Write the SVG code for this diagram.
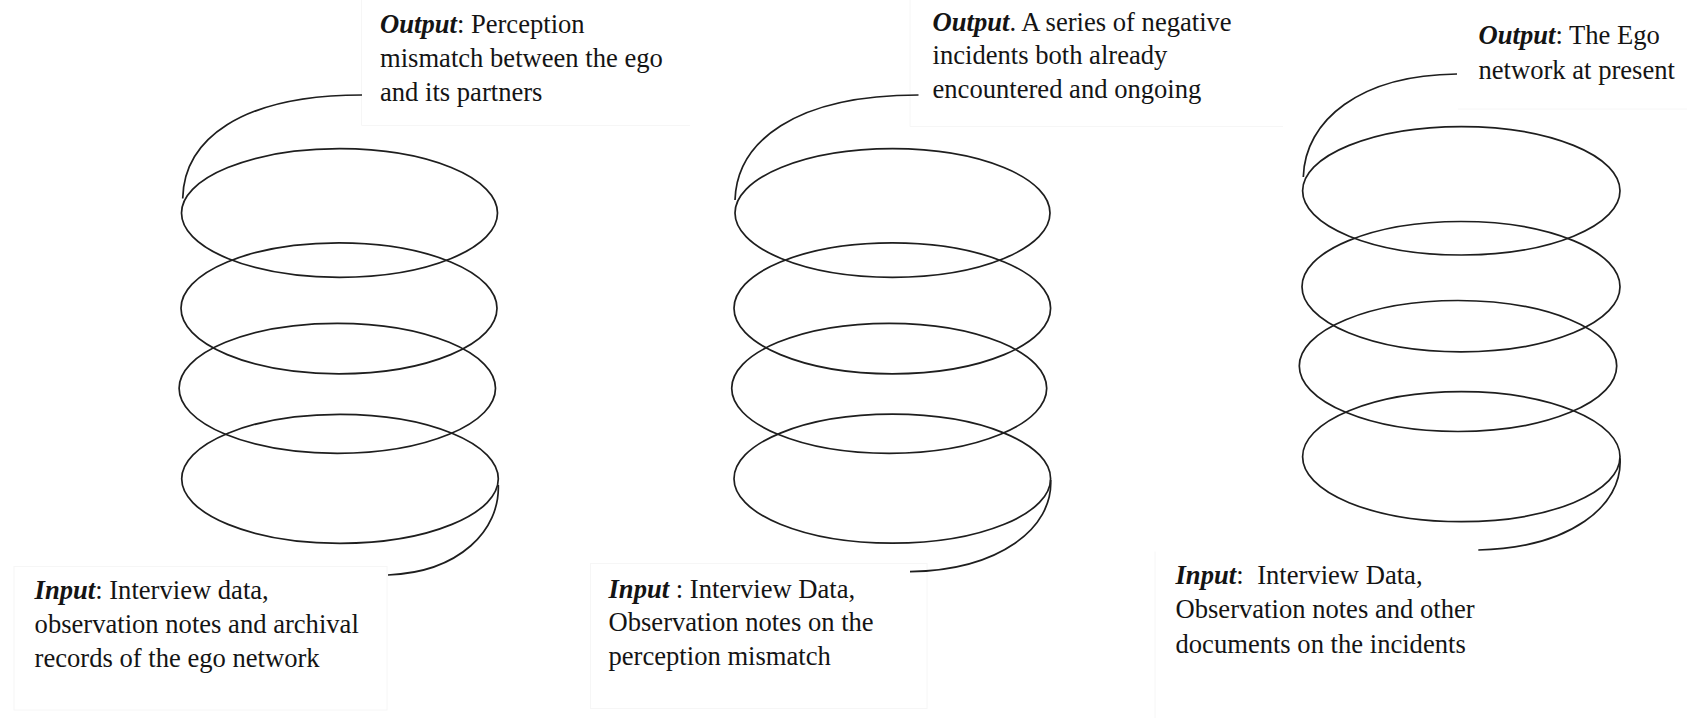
<svg xmlns="http://www.w3.org/2000/svg" width="1687" height="718" viewBox="0 0 1687 718">
<style>
.bg{fill:#ffffff}
.frame{fill:none;stroke:#f6f6f6;stroke-width:1}
.ring{fill:none;stroke:#1e1e1e;stroke-width:1.7}
.tail{fill:none;stroke:#1e1e1e;stroke-width:1.7;stroke-linecap:butt}
text{font-family:"Liberation Serif","Times New Roman",serif;font-size:26.6px;fill:#141414}
.lbl{font-weight:bold;font-style:italic}
</style>
<rect class="bg" x="0" y="0" width="1687" height="718"/>

<g id="frames">
<path class="frame" d="M361.5,0 V125.5 H690"/>
<path class="frame" d="M910,0 V126.5 H1283"/>
<path class="frame" d="M1458,109 H1687"/>
<rect class="frame" x="14" y="566.5" width="373" height="143.5"/>
<rect class="frame" x="590.5" y="563.5" width="336.5" height="145"/>
<path class="frame" d="M1155,718 V551.5"/>
</g>

<g id="coil1">
<ellipse class="ring" cx="339.5" cy="213" rx="158" ry="64.3"/>
<ellipse class="ring" cx="339" cy="308.3" rx="158" ry="65.5"/>
<ellipse class="ring" cx="337.3" cy="388.3" rx="158.2" ry="65"/>
<ellipse class="ring" cx="340" cy="478.8" rx="158.3" ry="64.5"/>
</g>

<g id="coil2">
<ellipse class="ring" cx="892.5" cy="213" rx="157.5" ry="64.3"/>
<ellipse class="ring" cx="892.3" cy="308.3" rx="158.3" ry="65.5"/>
<ellipse class="ring" cx="889.2" cy="388.3" rx="157.5" ry="65"/>
<ellipse class="ring" cx="892.3" cy="478.7" rx="158.3" ry="64.5"/>
</g>

<g id="coil3">
<ellipse class="ring" cx="1461.3" cy="190.8" rx="158.7" ry="64.2"/>
<ellipse class="ring" cx="1461" cy="286.7" rx="159" ry="65.2"/>
<ellipse class="ring" cx="1458" cy="366" rx="158.7" ry="65.5"/>
<ellipse class="ring" cx="1461.3" cy="456.7" rx="158.7" ry="65"/>
</g>

<g id="connectors">
<path class="tail" d="M182.7,198.5 C184,140 240,95 362,95"/>
<path class="tail" d="M498.3,485 C500,530 460,572 388,575"/>
<path class="tail" d="M735,200 C737,142 794,95 918.5,95"/>
<path class="tail" d="M1050.7,480 C1053,528 1000,570 910,571.7"/>
<path class="tail" d="M1303.3,177 C1305,120 1360,75 1457,74"/>
<path class="tail" d="M1620,458.3 C1623,506 1570,548 1478.3,550"/>
</g>

<g id="output1">
<text x="380" y="32.5"><tspan class="lbl">Output</tspan>: Perception</text>
<text x="380" y="66.5">mismatch between the ego</text>
<text x="380" y="100.5">and its partners</text>
</g>

<g id="output2">
<text x="932.5" y="30.5"><tspan class="lbl">Output</tspan>. A series of negative</text>
<text x="932.5" y="64">incidents both already</text>
<text x="932.5" y="97.5">encountered and ongoing</text>
</g>

<g id="output3">
<text x="1478.5" y="43.5"><tspan class="lbl">Output</tspan>: The Ego</text>
<text x="1478.5" y="78.5">network at present</text>
</g>

<g id="input1">
<text x="34.6" y="599.3"><tspan class="lbl">Input</tspan>: Interview data,</text>
<text x="34.6" y="633">observation notes and archival</text>
<text x="34.6" y="667">records of the ego network</text>
</g>

<g id="input2">
<text x="608.5" y="598.3"><tspan class="lbl">Input</tspan> : Interview Data,</text>
<text x="608.5" y="631">Observation notes on the</text>
<text x="608.5" y="665">perception mismatch</text>
</g>

<g id="input3">
<text x="1175.5" y="584"><tspan class="lbl">Input</tspan>:<tspan dx="7"> Interview Data,</tspan></text>
<text x="1175.5" y="618.3">Observation notes and other</text>
<text x="1175.5" y="653">documents on the incidents</text>
</g>
</svg>
